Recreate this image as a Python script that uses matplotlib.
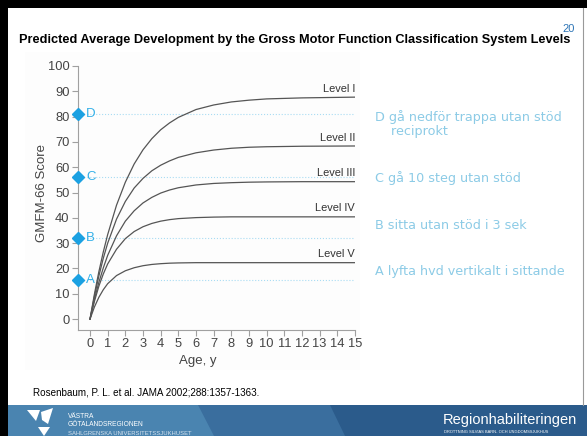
import matplotlib
matplotlib.use("Agg")
import matplotlib.pyplot as plt
from matplotlib.patches import Rectangle, Polygon
from matplotlib.transforms import blended_transform_factory

plt.rcParams['font.family'] = ['Liberation Sans', 'DejaVu Sans']

# data
ages = [0, 0.25, 0.5, 0.75, 1, 1.5, 2, 2.5, 3, 3.5, 4, 4.5, 5, 6, 7, 8, 9, 10, 12, 15]
level_1 = [0, 9.9, 18.7, 26.5, 33.4, 45.0, 54.1, 61.3, 66.9, 71.3, 74.8, 77.5, 79.7, 82.8, 84.6, 85.8, 86.5, 87.0, 87.4, 87.7]
level_2 = [0, 9.0, 17.0, 24.0, 30.0, 39.5, 46.5, 51.8, 55.6, 58.6, 60.8, 62.5, 63.9, 65.7, 66.8, 67.5, 67.9, 68.1, 68.3, 68.4]
level_3 = [0, 7.8, 14.5, 20.2, 25.2, 32.9, 38.7, 42.8, 45.9, 48.1, 49.8, 51.0, 51.9, 53.0, 53.6, 53.9, 54.1, 54.2, 54.3, 54.3]
level_4 = [0, 7.0, 13.0, 17.8, 21.8, 27.6, 31.8, 34.6, 36.5, 37.8, 38.7, 39.3, 39.7, 40.1, 40.3, 40.4, 40.4, 40.4, 40.4, 40.4]
level_5 = [0, 4.8, 8.6, 11.6, 14.0, 17.2, 19.1, 20.3, 21.1, 21.6, 21.9, 22.1, 22.2, 22.3, 22.3, 22.3, 22.3, 22.3, 22.3, 22.3]
curves = [level_1, level_2, level_3, level_4, level_5]
level_names = ['Level I', 'Level II', 'Level III', 'Level IV', 'Level V']

milestone_letters = ['A', 'B', 'C', 'D']
milestone_values = [15.5, 32, 56, 81]
milestone_texts = ['A lyfta hvd vertikalt i sittande', 'B sitta utan stöd i 3 sek',
                   'C gå 10 steg utan stöd', 'D gå nedför trappa utan stöd\n    reciprokt']
milestone_text_y = [271, 225, 178, 124]

W, H = 587, 436
fig = plt.figure(figsize=(W / 100, H / 100), dpi=100)

# slide background in pixel units
bg = fig.add_axes([0, 0, 1, 1])
bg.set_xlim(0, W)
bg.set_ylim(H, 0)
bg.axis('off')
bg.add_patch(Rectangle((0, 0), W, H, fc='white', ec='none'))
bg.add_patch(Rectangle((25, 52), 335, 318, fc='#fdfdfd', ec='none'))
bg.add_patch(Rectangle((0, 0), W, 8, fc='black', ec='none'))
bg.add_patch(Rectangle((0, 0), 8, H, fc='black', ec='none'))
bg.plot([583, 583], [8, 405], color='#999999', lw=0.8)

# footer band
bg.add_patch(Polygon([(8, 405), (W, 405), (W, H), (8, H)], fc='#2b5b8b', ec='none'))
bg.add_patch(Polygon([(8, 405), (330, 405), (345, H), (8, H)], fc='#3a6e9e', ec='none'))
bg.add_patch(Polygon([(8, 405), (198, 405), (214, H), (8, H)], fc='#4a84b0', ec='none'))
bg.add_patch(Polygon([(27, 410), (40, 410), (36, 421)], fc='white', ec='none'))
bg.add_patch(Polygon([(41, 412), (53, 408), (48, 424), (42, 420)], fc='white', ec='none'))
bg.add_patch(Polygon([(38, 427), (50, 427), (44, 436)], fc='white', ec='none'))
bg.text(68, 416, 'VÄSTRA', color='white', fontsize=4.8, va='center')
bg.text(68, 424.5, 'GÖTALANDSREGIONEN', color='white', fontsize=4.8, va='center')
bg.text(68, 433.5, 'SAHLGRENSKA UNIVERSITETSSJUKHUSET', color='#d8e4ef', fontsize=4.2, va='center')
bg.text(443, 420, 'Regionhabiliteringen', color='white', fontsize=10.5, va='center')
bg.text(444, 432, 'DROTTNING SILVIAS BARN- OCH UNGDOMSSJUKHUS', color='white', fontsize=2.9, va='center')

# title, page number, citation
bg.text(19, 40, 'Predicted Average Development by the Gross Motor Function Classification System Levels',
        fontsize=9.2, fontweight='bold', va='center')
bg.text(562, 29, '20', color='#2e75b6', fontsize=8, va='center')
bg.text(33, 392, 'Rosenbaum, P. L. et al. JAMA 2002;288:1357-1363.', fontsize=7.1, va='center')

# milestone descriptions
for txt, y in zip(milestone_texts, milestone_text_y):
    bg.text(375, y, txt, color='#8ccbe6', fontsize=9.2, va='center', family='DejaVu Sans',
            linespacing=1.1)

# chart
ax = fig.add_axes([78 / W, (H - 330) / H, (355 - 78) / W, (330 - 66) / H])
ax.patch.set_alpha(0)
ax.set_xlim(-0.68, 15)
ax.set_ylim(-4.3, 100)

for v in milestone_values:
    ax.axhline(v, color='#a9dcf3', lw=0.8, ls=':', zorder=1)

for name, vals in zip(level_names, curves):
    ax.plot(ages, vals, color='#555555', lw=0.9, zorder=2)
    ax.annotate(name, xy=(ages[-1], vals[-1]), xytext=(0, 2.5), textcoords='offset points',
                ha='right', va='bottom', fontsize=7.9, color='#333333')

trans = blended_transform_factory(ax.transAxes, ax.transData)
ax.plot([0] * len(milestone_values), milestone_values, 'D', color='#1ba1e2', ms=6.5,
        transform=trans, clip_on=False, zorder=3)
for letter, v in zip(milestone_letters, milestone_values):
    ax.annotate(letter, xy=(0, v), xycoords=trans, xytext=(6, 0), textcoords='offset points',
                va='center', ha='left', fontsize=9.5, color='#33b0e8')

ax.set_xticks(range(0, 16))
ax.set_yticks(range(0, 101, 10))
for side in ['top', 'right']:
    ax.spines[side].set_visible(False)
for side in ['left', 'bottom']:
    ax.spines[side].set_color('#a0a0a0')
    ax.spines[side].set_linewidth(0.8)
ax.tick_params(direction='out', length=4, width=0.8, color='#a0a0a0', labelcolor='#444444',
               labelsize=9.3, pad=2)

ax.set_xlabel('Age, y', fontsize=9.5, color='#444444')
ax.xaxis.set_label_coords(0.433, -0.095)
ax.set_ylabel('GMFM-66 Score', fontsize=9.5, color='#444444')
ax.yaxis.set_label_coords(-0.11, 0.52)

fig.savefig('out.png', dpi=100)
